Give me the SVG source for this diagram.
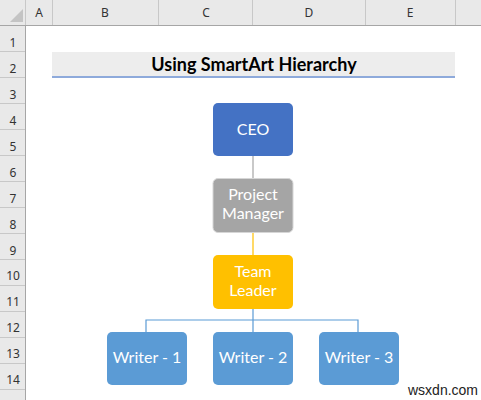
<svg xmlns="http://www.w3.org/2000/svg" width="481" height="400" viewBox="0 0 481 400">
  <style>
    .hdr { fill: #e9e9e9; }
    .grid { stroke: #c8c8c8; stroke-width: 1; }
    .hlabel { font-family: "Noto Sans", "DejaVu Sans", sans-serif; font-size: 12px; fill: #333; text-anchor: middle; }
    .box-text { font-family: Lato, "Liberation Sans", sans-serif; font-size: 16px; fill: #ffffff; text-anchor: middle; }
    .title { font-family: Lato, "Liberation Sans", sans-serif; font-size: 18px; font-weight: bold; fill: #000; text-anchor: middle; }
    .wm { font-family: "Liberation Sans", Arial, sans-serif; font-size: 14px; fill: #222; }
  </style>
  <rect x="0" y="0" width="481" height="400" fill="#ffffff"/>
  <!-- Column header -->
  <g id="column-header">
    <rect class="hdr" x="0" y="0" width="481" height="25"/>
    <line x1="0" y1="25.5" x2="481" y2="25.5" stroke="#a6a6a6"/>
    <g class="grid">
      <line x1="25.5" y1="0" x2="25.5" y2="25"/>
      <line x1="52.5" y1="0" x2="52.5" y2="25"/>
      <line x1="158.5" y1="0" x2="158.5" y2="25"/>
      <line x1="252.5" y1="0" x2="252.5" y2="25"/>
      <line x1="365.5" y1="0" x2="365.5" y2="25"/>
      <line x1="455.5" y1="0" x2="455.5" y2="25"/>
    </g>
    <polygon points="10,22 23,22 23,9" fill="#c4c4c4"/>
    <text class="hlabel" x="39" y="17">A</text>
    <text class="hlabel" x="105" y="17">B</text>
    <text class="hlabel" x="206" y="17">C</text>
    <text class="hlabel" x="309" y="17">D</text>
    <text class="hlabel" x="410" y="17">E</text>
  </g>
  <!-- Row header -->
  <g id="row-header">
    <rect class="hdr" x="0" y="26" width="25" height="374"/>
    <line x1="25.5" y1="25" x2="25.5" y2="400" stroke="#a6a6a6"/>
    <g class="grid">
      <line x1="0" y1="51.5" x2="25" y2="51.5"/>
      <line x1="0" y1="77.5" x2="25" y2="77.5"/>
      <line x1="0" y1="103.5" x2="25" y2="103.5"/>
      <line x1="0" y1="129.5" x2="25" y2="129.5"/>
      <line x1="0" y1="155.5" x2="25" y2="155.5"/>
      <line x1="0" y1="181.5" x2="25" y2="181.5"/>
      <line x1="0" y1="207.5" x2="25" y2="207.5"/>
      <line x1="0" y1="233.5" x2="25" y2="233.5"/>
      <line x1="0" y1="259.5" x2="25" y2="259.5"/>
      <line x1="0" y1="285.5" x2="25" y2="285.5"/>
      <line x1="0" y1="311.5" x2="25" y2="311.5"/>
      <line x1="0" y1="337.5" x2="25" y2="337.5"/>
      <line x1="0" y1="363.5" x2="25" y2="363.5"/>
      <line x1="0" y1="389.5" x2="25" y2="389.5"/>
    </g>
    <text class="hlabel" x="13" y="47">1</text>
    <text class="hlabel" x="13" y="73">2</text>
    <text class="hlabel" x="13" y="99">3</text>
    <text class="hlabel" x="13" y="125">4</text>
    <text class="hlabel" x="13" y="151">5</text>
    <text class="hlabel" x="13" y="177">6</text>
    <text class="hlabel" x="13" y="203">7</text>
    <text class="hlabel" x="13" y="229">8</text>
    <text class="hlabel" x="13" y="255">9</text>
    <text class="hlabel" x="13" y="280">10</text>
    <text class="hlabel" x="13" y="306">11</text>
    <text class="hlabel" x="13" y="332">12</text>
    <text class="hlabel" x="13" y="358">13</text>
    <text class="hlabel" x="13" y="384">14</text>
  </g>
  <!-- Title -->
  <g id="title">
    <rect x="52" y="52" width="403" height="25" fill="#ededed"/>
    <line x1="52" y1="77" x2="455" y2="77" stroke="#8eaadb" stroke-width="2"/>
    <text class="title" x="254" y="71">Using SmartArt Hierarchy</text>
  </g>
  <!-- Connectors -->
  <g id="connectors" fill="none" stroke-width="1.2">
    <line x1="253" y1="156" x2="253" y2="179" stroke="#a5a5a5"/>
    <line x1="253" y1="233" x2="253" y2="255" stroke="#ffc000"/>
    <path d="M253,309 V332 M146,332 V320 H358 V332" stroke="#5b9bd5"/>
  </g>
  <!-- Nodes -->
  <g id="ceo">
    <rect x="213" y="103" width="80" height="53" rx="5" fill="#4472c4"/>
    <text class="box-text" x="253" y="135">CEO</text>
  </g>
  <g id="project-manager">
    <rect x="213" y="178.5" width="80" height="54" rx="5" fill="#a5a5a5" stroke="#d6d6d6" stroke-width="1"/>
    <text class="box-text" x="253" y="200">Project</text>
    <text class="box-text" x="253" y="219">Manager</text>
  </g>
  <g id="team-leader">
    <rect x="213" y="255" width="80" height="54" rx="5" fill="#ffc000"/>
    <text class="box-text" x="253" y="277">Team</text>
    <text class="box-text" x="253" y="296">Leader</text>
  </g>
  <g id="writer-1">
    <rect x="107" y="332" width="80" height="53" rx="5" fill="#5b9bd5"/>
    <text class="box-text" x="147" y="363">Writer - 1</text>
  </g>
  <g id="writer-2">
    <rect x="213" y="332" width="80" height="53" rx="5" fill="#5b9bd5"/>
    <text class="box-text" x="253" y="363">Writer - 2</text>
  </g>
  <g id="writer-3">
    <rect x="319" y="332" width="80" height="53" rx="5" fill="#5b9bd5"/>
    <text class="box-text" x="359" y="363">Writer - 3</text>
  </g>
  <text class="wm" x="408" y="395">wsxdn.com</text>
</svg>
